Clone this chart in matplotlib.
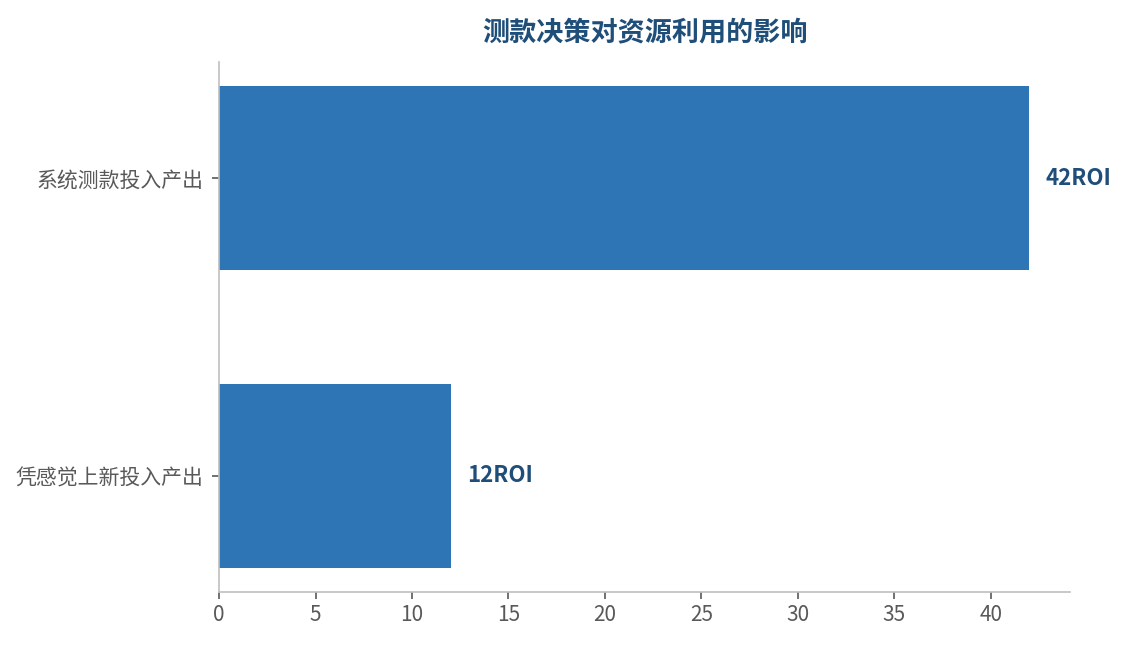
import matplotlib
matplotlib.use("Agg")
import matplotlib.pyplot as plt

plt.rcParams['font.family'] = ['Noto Sans CJK SC', 'DejaVu Sans']

# 数据
categories = ['凭感觉上新投入产出', '系统测款投入产出']
roi_values = [12, 42]
value_labels = ['12ROI', '42ROI']
x_ticks = [0, 5, 10, 15, 20, 25, 30, 35, 40]

bar_color = '#2E75B6'
text_blue = '#1F4E79'
gray_text = '#595959'

fig = plt.figure(figsize=(11.25, 6.45), dpi=100)
ax = fig.add_axes([0.1947, 0.0822, 0.7563, 0.8217])

bars = ax.barh(categories, roi_values, height=0.62, color=bar_color)

# 数值标注
for bar, lab in zip(bars, value_labels):
    ax.text(bar.get_width() + 0.85, bar.get_y() + bar.get_height() / 2, lab,
            va='center', ha='left', fontsize=16, fontweight='bold', color=text_blue)

ax.set_xlim(0, 44.1)
ax.set_ylim(-0.39, 1.39)
ax.set_xticks(x_ticks)

ax.spines['top'].set_visible(False)
ax.spines['right'].set_visible(False)
ax.spines['left'].set_color('#BFBFBF')
ax.spines['bottom'].set_color('#BFBFBF')
ax.spines['left'].set_linewidth(1.2)
ax.spines['bottom'].set_linewidth(1.2)
ax.tick_params(axis='both', colors='#595959', labelcolor=gray_text, labelsize=15, length=5, width=1.2)
ax.tick_params(axis='y', pad=6)

fig.suptitle('测款决策对资源利用的影响', x=0.573, y=0.972, fontsize=19.5,
             fontweight='bold', color=text_blue, va='top')

fig.savefig('out.png', dpi=100)
